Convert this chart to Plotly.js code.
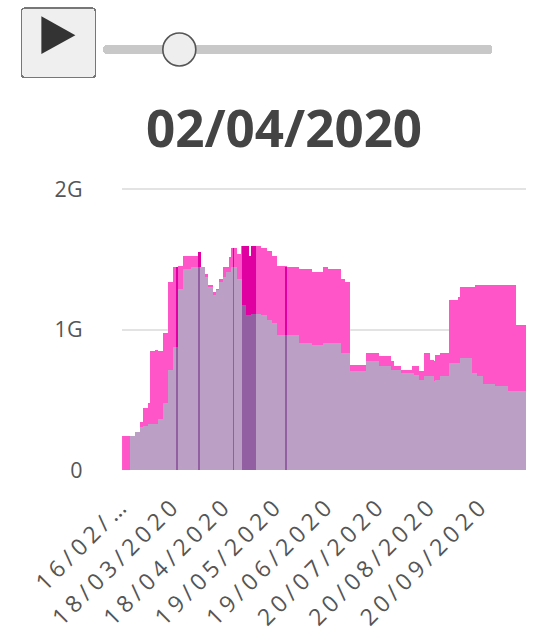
<!DOCTYPE html>
<html>
<head>
<meta charset="utf-8">
<script src="https://cdn.plot.ly/plotly-3.0.1.min.js"></script>
<style>
html,body{margin:0;padding:0;overflow:hidden;background:#fff;}
#wrap{width:536px;height:632px;overflow:hidden;}
#chart{width:325px;height:383px;transform:scale(1.6492,1.6501);transform-origin:0 0;}
.xtick text{letter-spacing:2.9px;}
.slider-rail-rect{fill:#c8c8c8 !important;stroke:#c8c8c8 !important;}
.slider-grip-rect{fill:#eeeeee !important;stroke:#555555 !important;}
</style>
</head>
<body>
<div id="wrap"><div id="chart"></div></div>
<script>
// ---- data ----
const START_DATE = [2020, 2, 16];   // year, month, day of first category
const DAY_COUNT = 244;
const currentFrame = '02/04/2020';

// series 1 (pink), in G
const seriesA = [
  .25,.25,.25,.25,.25,.25,.25,.25,.27,.27,
  .27,.34,.34,.45,.45,.45,.48,.85,.85,.85,
  .86,.79,.85,.85,.85,.98,.98,.98,1.34,1.34,
  1.34,1.45,1.45,1.45,1.46,1.46,1.46,1.53,1.53,1.53,
  1.53,1.53,1.53,1.53,1.53,1.53,1.55,1.45,1.45,1.40,
  1.40,1.32,1.32,1.32,1.27,1.27,1.27,1.29,1.29,1.36,
  1.36,1.44,1.44,1.44,1.44,1.52,1.58,1.58,1.58,1.54,
  1.54,1.54,1.60,1.60,1.60,1.60,1.53,1.53,1.60,1.60,
  1.60,1.60,1.60,1.58,1.58,1.58,1.58,1.56,1.56,1.56,
  1.53,1.53,1.53,1.46,1.46,1.46,1.46,1.46,1.46,1.45,
  1.45,1.45,1.45,1.45,1.45,1.45,1.43,1.43,1.43,1.43,
  1.43,1.43,1.43,1.43,1.41,1.41,1.41,1.41,1.41,1.41,
  1.41,1.41,1.44,1.44,1.43,1.43,1.43,1.43,1.43,1.43,
  1.43,1.43,1.36,1.36,1.34,1.34,1.34,.75,.75,.75,
  .75,.75,.75,.75,.75,.75,.75,.75,.83,.83,
  .83,.83,.83,.83,.83,.81,.81,.81,.81,.81,
  .81,.81,.78,.78,.74,.74,.74,.74,.72,.72,
  .72,.72,.72,.72,.72,.72,.74,.74,.74,.70,
  .70,.70,.70,.83,.83,.83,.79,.79,.78,.78,
  .82,.82,.82,.83,.83,.83,.83,.83,1.21,1.21,
  1.21,1.21,1.21,1.21,1.23,1.30,1.30,1.30,1.30,1.30,
  1.30,1.30,1.30,1.30,1.32,1.32,1.32,1.32,1.31,1.31,
  1.31,1.31,1.31,1.31,1.31,1.31,1.31,1.31,1.31,1.31,
  1.31,1.31,1.32,1.32,1.32,1.32,1.32,1.32,1.03,1.03,
  1.03,1.03,1.03,1.03
];

// series 2 (purple), in G
const seriesB = [
  0,0,0,0,0,.25,.25,.25,.27,.27,
  .27,.31,.31,.32,.32,.32,.33,.33,.33,.33,
  .33,.33,.37,.37,.37,.48,.48,.48,.72,.72,
  .72,.88,.88,.88,1.29,1.29,1.29,1.43,1.43,1.43,
  1.43,1.43,1.45,1.45,1.45,1.45,1.45,1.45,1.45,1.37,
  1.37,1.30,1.30,1.30,1.24,1.24,1.24,1.28,1.28,1.34,
  1.34,1.37,1.37,1.41,1.41,1.41,1.44,1.44,1.44,1.36,
  1.36,1.36,1.17,1.17,1.10,1.10,1.10,1.10,1.12,1.12,
  1.12,1.12,1.12,1.10,1.10,1.10,1.10,1.07,1.07,1.07,
  1.04,1.04,1.04,.96,.96,.96,.96,.96,.96,.96,
  .96,.96,.96,.96,.96,.96,.91,.91,.91,.91,
  .91,.91,.91,.91,.89,.89,.89,.89,.89,.89,
  .89,.89,.91,.91,.91,.91,.91,.91,.91,.91,
  .91,.91,.83,.83,.83,.83,.83,.71,.71,.71,
  .71,.71,.71,.71,.71,.71,.71,.71,.77,.77,
  .77,.77,.77,.77,.77,.74,.74,.74,.74,.74,
  .74,.74,.72,.72,.72,.72,.72,.72,.69,.69,
  .69,.69,.69,.69,.69,.69,.68,.68,.68,.65,
  .65,.65,.65,.67,.67,.67,.67,.67,.63,.63,
  .65,.65,.65,.67,.67,.67,.67,.67,.76,.76,
  .76,.76,.76,.76,.76,.80,.80,.80,.80,.80,
  .80,.69,.69,.69,.67,.67,.67,.67,.61,.61,
  .61,.61,.61,.61,.61,.60,.60,.60,.60,.60,
  .60,.60,.60,.56,.56,.56,.56,.56,.56,.56,
  .56,.56,.56,.56
];

// days drawn darker in the reference
const darkerDays = [33, 46, 67, 73, 74, 75, 76, 77, 78, 79, 80, 99];

const yTickVals = [0, 1, 2];
const yTickText = ['0', '1G', '2G'];
const xTickIndex = [0, 31, 62, 93, 124, 155, 186, 217];
const firstTickText = '16/02/…';

// ---- build categories ----
function pad2(n){ return (n < 10 ? '0' : '') + n; }
const dates = [];
for (let i = 0; i < DAY_COUNT; i++) {
  const d = new Date(Date.UTC(START_DATE[0], START_DATE[1] - 1, START_DATE[2] + i));
  dates.push(pad2(d.getUTCDate()) + '/' + pad2(d.getUTCMonth() + 1) + '/' + d.getUTCFullYear());
}
const xTickVals = xTickIndex.map(i => dates[i]);
const xTickText = xTickIndex.map((i, k) => k === 0 ? firstTickText : dates[i]);

// ---- styles ----
const PINK = '#ff55c9', PINK_DARK = '#e000a2';
const PURPLE = '#bc9fc5', PURPLE_DARK = '#915fa2';
const colorsA = dates.map((d, i) => darkerDays.includes(i) ? PINK_DARK : PINK);
const colorsB = dates.map((d, i) => darkerDays.includes(i) ? PURPLE_DARK : PURPLE);

const traces = [
  {type: 'bar', x: dates, y: seriesA, marker: {color: colorsA, line: {width: 0}}, hoverinfo: 'x+y', name: 'A'},
  {type: 'bar', x: dates, y: seriesB, marker: {color: colorsB, line: {width: 0}}, hoverinfo: 'x+y', name: 'B'}
];

const layout = {
  width: 325, height: 383,
  margin: {l: 73.9, r: 5.6, t: 112.8, b: 97.5, autoexpand: false},
  paper_bgcolor: '#fff', plot_bgcolor: '#fff',
  showlegend: false,
  barmode: 'overlay', bargap: 0,
  font: {family: 'Open Sans, sans-serif', color: '#444'},
  title: {
    text: currentFrame,
    font: {size: 31, weight: 700, color: '#444', family: 'Open Sans, sans-serif'},
    xref: 'container', x: 0.53, xanchor: 'center',
    yref: 'container', y: 0.796, yanchor: 'middle'
  },
  xaxis: {
    type: 'category', categoryorder: 'array', categoryarray: dates,
    tickmode: 'array', tickvals: xTickVals, ticktext: xTickText,
    tickangle: -45, tickfont: {size: 14, color: '#555'},
    showgrid: false, zeroline: false, showline: false, ticks: '', ticklabelstandoff: 9,
    automargin: false, fixedrange: true
  },
  yaxis: {
    range: [0, 2.02], tickmode: 'array', tickvals: yTickVals, ticktext: yTickText,
    tickfont: {size: 13, color: '#555'},
    showgrid: true, gridcolor: '#e3e3e3', gridwidth: 1,
    zeroline: false, showline: false, ticks: '', ticklabelstandoff: 23,
    automargin: false, fixedrange: true
  },
  updatemenus: [{
    type: 'buttons', showactive: false,
    x: -0.252, xanchor: 'left', y: 1.636, yanchor: 'top',
    pad: {t: 0, r: 0, b: 0, l: 0},
    bgcolor: '#efefef', bordercolor: '#777', borderwidth: 1,
    font: {size: 30, color: '#333', family: 'DejaVu Sans Condensed, DejaVu Sans'},
    buttons: [{label: '▶', method: 'animate', args: [null, {frame: {duration: 300, redraw: true}, fromcurrent: true}]}]
  }],
  sliders: [{
    active: dates.indexOf(currentFrame),
    x: -0.077, len: 1.023, xanchor: 'left',
    y: 1.543, yanchor: 'top',
    pad: {t: 0, r: 0, b: 0, l: 0},
    bgcolor: '#eeeeee', bordercolor: '#555', borderwidth: 1,
    ticklen: 0, minorticklen: 0, tickcolor: 'rgba(0,0,0,0)',
    font: {size: 6, color: 'rgba(0,0,0,0)'},
    currentvalue: {visible: false},
    steps: dates.map(d => ({label: d, method: 'animate', args: [[d], {mode: 'immediate'}]}))
  }]
};

Plotly.newPlot('chart', traces, layout, {displayModeBar: false, responsive: false});
</script>
</body>
</html>
